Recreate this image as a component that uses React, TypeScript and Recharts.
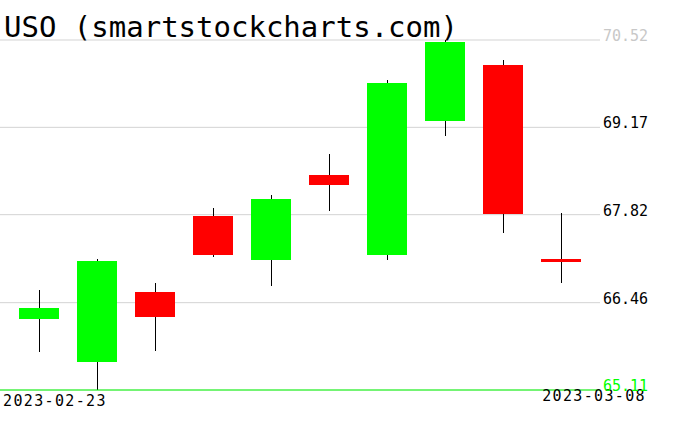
import React from 'react';
import { ComposedChart, Bar, XAxis, YAxis, CartesianGrid, ReferenceLine } from 'recharts';

const dates = ['2023-02-23', '2023-02-24', '2023-02-27', '2023-02-28', '2023-03-01', '2023-03-02', '2023-03-03', '2023-03-06', '2023-03-07', '2023-03-08'];
const opens = [66.21, 65.55, 66.63, 67.80, 67.12, 68.43, 67.19, 69.27, 70.14, 67.14];
const highs = [66.66, 67.14, 66.76, 67.92, 68.12, 68.76, 69.90, 70.52, 70.21, 67.85];
const lows = [65.69, 65.11, 65.71, 67.16, 66.72, 67.88, 67.12, 69.04, 67.54, 66.77];
const closes = [66.38, 67.10, 66.24, 67.20, 68.06, 68.28, 69.86, 70.49, 67.83, 67.09];
const yTicks = [65.11, 66.46, 67.82, 69.17, 70.52];
const title = 'USO (smartstockcharts.com)';

const data = dates.map((d, i) => ({
  date: d,
  open: opens[i],
  high: highs[i],
  low: lows[i],
  close: closes[i],
  range: [lows[i], highs[i]],
}));

const MONO = '"DejaVu Sans Mono", monospace';

const Candle = (props: any) => {
  const { x, y, width, height, payload } = props;
  const { open, close, high, low } = payload;
  const span = high - low;
  const toPx = (v: number) => (span === 0 ? y : y + ((high - v) / span) * height);
  const up = close >= open;
  const top = toPx(Math.max(open, close));
  const bot = toPx(Math.min(open, close));
  const cx = Math.round(x + width / 2) + 0.5;
  return (
    <g>
      <line x1={cx} x2={cx} y1={y} y2={y + height} stroke="#000" strokeWidth={1} shapeRendering="crispEdges" />
      <rect
        x={x}
        y={top}
        width={width}
        height={Math.max(bot - top, 1)}
        fill={up ? '#00ff00' : '#ff0000'}
        shapeRendering="crispEdges"
      />
    </g>
  );
};

const YTick = (props: any) => {
  const { y, payload, index } = props;
  const color = index === 0 ? '#00ff00' : index === yTicks.length - 1 ? '#c8c8c8' : '#000';
  return (
    <text x={603} y={y + 1} fill={color} fontFamily={MONO} fontSize={15} textAnchor="start">
      {payload.value.toFixed(2)}
    </text>
  );
};

const XTick = (props: any) => {
  const { x, payload, index } = props;
  if (index === 0) {
    return (
      <text x={x - 36} y={406} fill="#000" fontFamily={MONO} fontSize={15} letterSpacing={1.35} textAnchor="start">
        {payload.value}
      </text>
    );
  }
  if (index === dates.length - 1) {
    return (
      <text x={x + 85} y={401} fill="#000" fontFamily={MONO} fontSize={15} letterSpacing={1.35} textAnchor="end">
        {payload.value}
      </text>
    );
  }
  return <g />;
};

export default function App() {
  return (
    <div style={{ position: 'absolute', left: 0, top: 0, width: 676, height: 431, background: '#fff' }}>
      <ComposedChart width={676} height={431} data={data} margin={{ top: 40, right: 0, bottom: 0, left: 0 }}>
        <CartesianGrid horizontal vertical={false} stroke="#d3d3d3" strokeDasharray="" />
        <XAxis
          dataKey="date"
          type="category"
          padding={{ left: 10, right: 10 }}
          height={41}
          axisLine={false}
          tickLine={false}
          interval={0}
          tick={<XTick />}
        />
        <YAxis
          orientation="right"
          type="number"
          domain={[65.11, 70.52]}
          ticks={yTicks}
          width={76}
          axisLine={false}
          tickLine={false}
          tick={<YTick />}
          allowDataOverflow
        />
        <ReferenceLine y={65.11} stroke="#00ff00" strokeWidth={1} />
        <Bar dataKey="range" barSize={40} isAnimationActive={false} shape={<Candle />} />
      </ComposedChart>
      <svg width={676} height={60} style={{ position: 'absolute', left: 0, top: 0, pointerEvents: 'none' }}>
        <text x={4} y={37} fontFamily={MONO} fontSize={29} fill="#000">
          {title}
        </text>
      </svg>
    </div>
  );
}
